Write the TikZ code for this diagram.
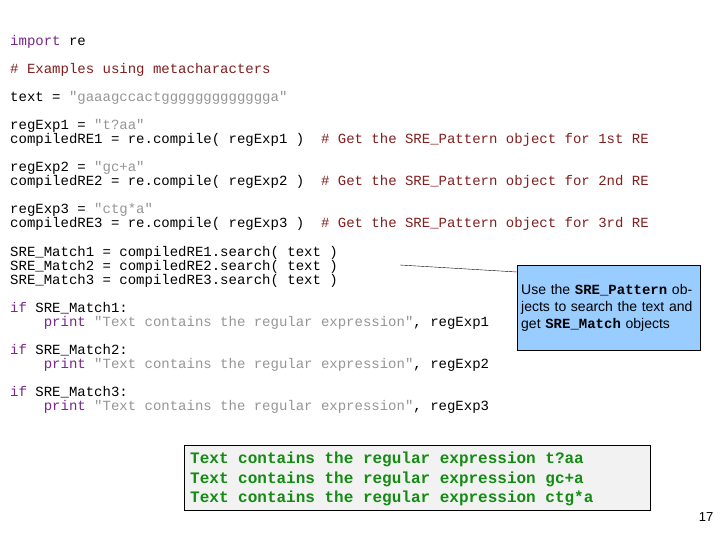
\documentclass[tikz,border=0pt]{standalone}
\usepackage{fontspec}
\setmainfont{Liberation Sans}
\setmonofont{Liberation Mono}
\definecolor{kwpurple}{RGB}{120,40,140}
\definecolor{cmtred}{RGB}{130,30,30}
\definecolor{strgray}{RGB}{150,150,150}
\definecolor{outgreen}{RGB}{20,140,20}
\definecolor{noteblue}{RGB}{153,204,255}
\definecolor{outgray}{RGB}{242,242,242}
\tikzset{
  codeline/.style={anchor=base west, inner sep=0pt, font=\fontsize{14}{14}\ttfamily},
  outline/.style={anchor=base west, inner sep=0pt, font=\fontsize{16}{16}\ttfamily\bfseries, text=outgreen},
}
\newcommand{\kw}[1]{\textcolor{kwpurple}{#1}}
\newcommand{\cm}[1]{\textcolor{cmtred}{#1}}
\newcommand{\st}[1]{\textcolor{strgray}{#1}}
\begin{document}
\begin{tikzpicture}[x=1pt,y=-1pt]
\useasboundingbox[fill=white] (0,0) rectangle (720,540);
% code
\node[codeline] (l1) at (10,46) {\kw{import} re};
\node[codeline] (l2) at (10,74) {\cm{\# Examples using metacharacters}};
\node[codeline] (l3) at (10,102) {text = \st{"gaaagccactggggggggggggga"}};
\node[codeline] (l4) at (10,130) {regExp1 = \st{"t?aa"}};
\node[codeline] (l5) at (10,144) {compiledRE1 = re.compile( regExp1 )\ \ \cm{\# Get the SRE\_Pattern object for 1st RE}};
\node[codeline] (l6) at (10,172) {regExp2 = \st{"gc+a"}};
\node[codeline] (l7) at (10,186) {compiledRE2 = re.compile( regExp2 )\ \ \cm{\# Get the SRE\_Pattern object for 2nd RE}};
\node[codeline] (l8) at (10,214) {regExp3 = \st{"ctg*a"}};
\node[codeline] (l9) at (10,228) {compiledRE3 = re.compile( regExp3 )\ \ \cm{\# Get the SRE\_Pattern object for 3rd RE}};
\node[codeline] (l10) at (10,256) {SRE\_Match1 = compiledRE1.search( text )};
\node[codeline] (l11) at (10,270) {SRE\_Match2 = compiledRE2.search( text )};
\node[codeline] (l12) at (10,284) {SRE\_Match3 = compiledRE3.search( text )};
\node[codeline] (l13) at (10,312) {\kw{if} SRE\_Match1:};
\node[codeline] (l14) at (10,326) {\ \ \ \ \kw{print} \st{"Text contains the regular expression"}, regExp1};
\node[codeline] (l15) at (10,354) {\kw{if} SRE\_Match2:};
\node[codeline] (l16) at (10,368) {\ \ \ \ \kw{print} \st{"Text contains the regular expression"}, regExp2};
\node[codeline] (l17) at (10,396) {\kw{if} SRE\_Match3:};
\node[codeline] (l18) at (10,410) {\ \ \ \ \kw{print} \st{"Text contains the regular expression"}, regExp3};
% callout
\node[draw=black, fill=noteblue, anchor=north west, minimum width=183pt, minimum height=85pt,
  text width=175pt, inner sep=4pt, align=left, font=\fontsize{14}{17}\selectfont] (note) at (517,265)
  {Use the \texttt{\textbf{SRE\_Pattern}} objects to search the text and get \texttt{\textbf{SRE\_Match}} objects};
\coordinate (tail) at (400,265);
\draw (tail) -- (note.north west |- 0,272);
% output
\node[draw=black, fill=outgray, anchor=north west, minimum width=466pt, minimum height=65pt] (outbox) at (184,445) {};
\node[outline] (o1) at (190,463) {Text contains the regular expression t?aa};
\node[outline] (o2) at (190,483) {Text contains the regular expression gc+a};
\node[outline] (o3) at (190,502) {Text contains the regular expression ctg*a};
\node[anchor=base, inner sep=0pt, font=\fontsize{13}{13}\rmfamily] (page) at (706,521) {17};
\end{tikzpicture}
\end{document}
